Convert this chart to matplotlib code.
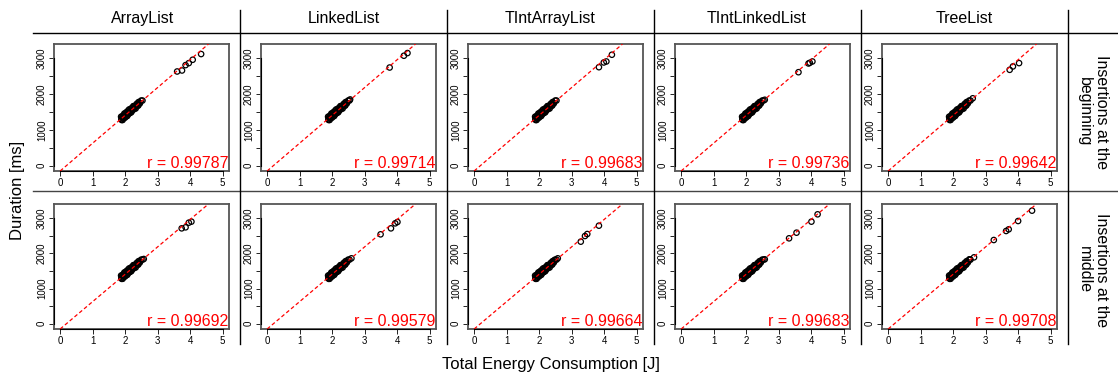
import numpy as np
import matplotlib
matplotlib.use("Agg")
import matplotlib.pyplot as plt
from matplotlib.lines import Line2D

plt.rcParams['font.family'] = ['Liberation Sans', 'DejaVu Sans']

list_types = ['ArrayList', 'LinkedList', 'TIntArrayList', 'TIntLinkedList', 'TreeList']
scenarios = ['Insertions at the\nbeginning', 'Insertions at the\nmiddle']

# dense bulk of runs (same shape in every panel)
cluster_energy = [1.87, 1.89, 1.90, 1.92, 1.94, 1.95, 1.97, 1.99, 2.00, 2.02, 2.04, 2.06, 2.08, 2.10, 2.12,
                  2.14, 2.16, 2.18, 2.20, 2.23, 2.25, 2.27, 2.30, 2.32, 2.35, 2.38, 2.41, 2.45, 2.49, 2.53,
                  1.88, 1.91, 1.93, 1.96, 1.98, 2.01, 2.03, 2.05, 2.07, 2.09, 2.11, 2.13, 2.15, 2.17,
                  2.19, 2.21, 2.24, 2.26, 2.29, 2.31, 2.34, 2.37, 2.40, 2.43]
cluster_duration = [1369, 1275, 1343, 1278, 1404, 1351, 1457, 1342, 1440, 1386, 1501, 1387, 1492, 1458, 1573,
                    1469, 1544, 1490, 1615, 1568, 1664, 1579, 1673, 1598, 1721, 1675, 1778, 1739, 1820, 1821,
                    1297, 1380, 1316, 1399, 1345, 1468, 1423, 1479, 1434, 1540, 1455, 1521, 1506, 1582,
                    1507, 1593, 1566, 1662, 1625, 1670, 1654, 1737, 1680, 1753]

# outlying runs, per panel (row: scenario, column: list type)
begin_energy = [
    [3.60, 3.75, 3.86, 3.96, 4.08, 4.34],
    [2.55, 3.77, 4.21, 4.32],
    [3.84, 3.99, 4.07, 4.24],
    [2.57, 3.61, 3.92, 3.96, 4.04],
    [2.60, 3.74, 3.84, 4.03],
]
begin_duration = [
    [2632, 2660, 2810, 2866, 2960, 3119],
    [1851, 2743, 3072, 3147],
    [2752, 2884, 2912, 3100],
    [1842, 2612, 2856, 2875, 2912],
    [1883, 2679, 2773, 2866],
]
middle_energy = [
    [2.57, 3.74, 3.86, 3.96, 4.04],
    [2.59, 3.49, 3.81, 3.94, 4.01],
    [2.47, 2.57, 3.28, 3.41, 3.48, 3.84],
    [2.57, 3.32, 3.55, 4.01, 4.20],
    [2.50, 2.64, 3.25, 3.63, 3.71, 4.00, 4.43],
]
middle_duration = [
    [1839, 2709, 2738, 2870, 2899],
    [1858, 2539, 2709, 2851, 2889],
    [1810, 1858, 2331, 2492, 2548, 2785],
    [1830, 2426, 2586, 2899, 3107],
    [1830, 1886, 2378, 2634, 2681, 2917, 3211],
]

r_begin = [0.99787, 0.99714, 0.99683, 0.99736, 0.99642]
r_middle = [0.99692, 0.99579, 0.99664, 0.99683, 0.99708]

# fitted lines (intercept, slope)
fit_intercept = [[-140, -140, -140, -140, -140], [-140, -140, -140, -140, -140]]
fit_slope = [[775, 775, 775, 775, 775], [775, 775, 775, 775, 775]]

W, H = 1118, 376
fig = plt.figure(figsize=(W / 100, H / 100), dpi=100)


def fx(px):
    return px / W


def fy(py):
    return 1 - py / H


col_w = 207
box_rows = [(44, 171), (204, 329)]
energy_rows = [begin_energy, middle_energy]
duration_rows = [begin_duration, middle_duration]
r_rows = [r_begin, r_middle]

for i in range(2):
    for j in range(5):
        x0 = 54 + col_w * j
        top, bot = box_rows[i]
        ax = fig.add_axes([fx(x0), fy(bot), 175 / W, (bot - top) / H])
        e = cluster_energy + energy_rows[i][j]
        d = cluster_duration + duration_rows[i][j]
        ax.scatter(e, d, s=15, facecolors='none', edgecolors='black', linewidths=0.9, zorder=2)
        ax.axline((0, fit_intercept[i][j]), slope=fit_slope[i][j], color='red', lw=0.9,
                  dashes=(3, 2), zorder=3)
        ax.set_xlim(-0.2, 5.2)
        ax.set_ylim(-148, 3400)
        ax.set_xticks(range(0, 6))
        ax.set_yticks(range(0, 3001, 500))
        ax.set_yticklabels(['0', '', '1000', '', '2000', '', '3000'], rotation=90, va='center')
        ax.tick_params(labelsize=7, length=3.5, width=0.6, pad=1.5, colors='black')
        for s in ax.spines.values():
            s.set_color('#555555')
            s.set_linewidth(1.3)
        # axis lines from first to last tick
        ax.plot([0, 5], [-148, -148], color='black', lw=0.8, clip_on=False, zorder=4)
        ax.plot([-0.2, -0.2], [0, 3000], color='black', lw=0.8, clip_on=False, zorder=4)
        ax.text(0.995, 0.02, 'r = %.5f' % r_rows[i][j], transform=ax.transAxes,
                ha='right', va='baseline', color='red', fontsize=11.5)

# strip frame
fig.add_artist(Line2D([fx(33), fx(1118)], [fy(33), fy(33)], color='black', lw=1))
fig.add_artist(Line2D([fx(33), fx(1118)], [fy(191), fy(191)], color='#444444', lw=1))
for xv in [240, 447, 654, 861, 1068]:
    fig.add_artist(Line2D([fx(xv), fx(xv)], [fy(10), fy(344)], color='black', lw=1))

header_x = [143, 343.5, 550, 757, 964.5]
for name, hx in zip(list_types, header_x):
    fig.text(fx(hx), fy(22.7), name, ha='center', va='baseline', fontsize=11.5)

for sc, cy in zip(scenarios, [112, 270]):
    fig.text(fx(1093), fy(cy), sc, ha='center', va='center', ma='center', rotation=-90,
             fontsize=11.5, linespacing=1.15)

fig.text(fx(18), fy(190), 'Duration [ms]', ha='center', va='center', rotation=90, fontsize=12)
fig.text(fx(551), fy(364), 'Total Energy Consumption [J]', ha='center', va='center', fontsize=12)

fig.savefig('out.png', dpi=100)
